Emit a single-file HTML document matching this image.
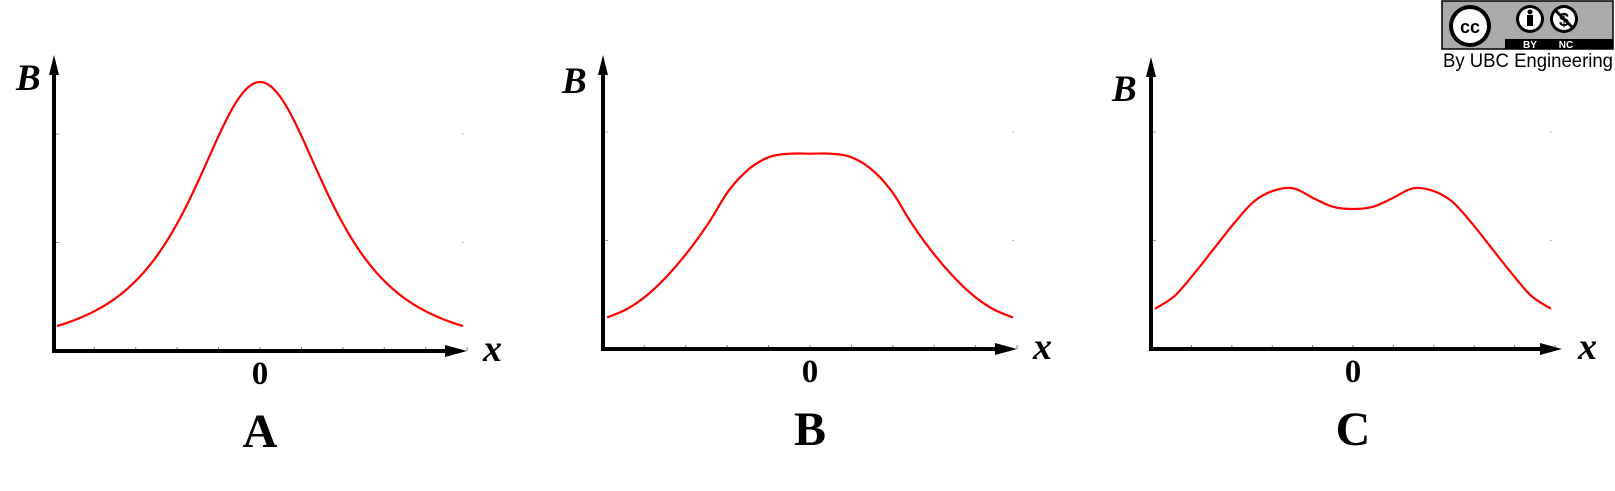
<!DOCTYPE html>
<html><head><meta charset="utf-8"><style>
html,body{margin:0;padding:0;background:#fff;}
svg{display:block;}
</style></head><body>
<svg id="chart" width="1615" height="491" viewBox="0 0 1615 491" xmlns="http://www.w3.org/2000/svg">
<g>
  <rect x="1442" y="1" width="171" height="48" fill="#a9aba9" stroke="#000" stroke-width="1.5"/>
  <rect x="1505" y="39" width="108" height="10" fill="#000"/>
  <circle cx="1470" cy="26" r="21" fill="#000"/>
  <circle cx="1470" cy="26" r="17" fill="#fff"/>
  <text x="1470" y="33" text-anchor="middle" font-family="Liberation Sans, sans-serif" font-weight="bold" font-size="18" fill="#000">cc</text>
  <circle cx="1530" cy="19" r="14" fill="#000"/>
  <circle cx="1530" cy="19" r="11" fill="#fff"/>
  <circle cx="1530" cy="12" r="2.5" fill="#000"/>
  <rect x="1527" y="15" width="6" height="11" fill="#000"/>
  <circle cx="1564" cy="19" r="14" fill="#000"/>
  <circle cx="1564" cy="19" r="11" fill="#fff"/>
  <text x="1564" y="26" text-anchor="middle" font-family="Liberation Sans, sans-serif" font-weight="bold" font-size="18" fill="#000">$</text>
  <line x1="1555" y1="10" x2="1573" y2="28" stroke="#000" stroke-width="3"/>
  <text x="1530" y="48" text-anchor="middle" font-family="Liberation Sans, sans-serif" font-weight="bold" font-size="10" fill="#fff">BY</text>
  <text x="1566" y="48" text-anchor="middle" font-family="Liberation Sans, sans-serif" font-weight="bold" font-size="10" fill="#fff">NC</text>
  <text x="1528" y="67" text-anchor="middle" font-family="Liberation Sans, sans-serif" font-size="19" textLength="170" lengthAdjust="spacingAndGlyphs" fill="#000">By UBC Engineering</text>
</g>
<g id="panels"></g>
</svg>
<script>
// normalized x positions (-1..1) and B values (in units of y-tick spacing)
const xsA = [-1,-0.95,-0.9,-0.85,-0.8,-0.75,-0.7,-0.65,-0.6,-0.55,-0.5,-0.45,-0.4,-0.35,-0.3,-0.25,-0.2,-0.15,-0.1,-0.05,0,0.05,0.1,0.15,0.2,0.25,0.3,0.35,0.4,0.45,0.5,0.55,0.6,0.65,0.7,0.75,0.8,0.85,0.9,0.95,1];
const seriesA = [0.23,0.26,0.295,0.335,0.382,0.437,0.502,0.579,0.669,0.775,0.898,1.040,1.203,1.385,1.583,1.791,1.998,2.188,2.342,2.444,2.48,2.444,2.342,2.188,1.998,1.791,1.583,1.385,1.203,1.040,0.898,0.775,0.669,0.579,0.502,0.437,0.382,0.335,0.295,0.26,0.23];
const xs = [-1,-0.9,-0.8,-0.7,-0.6,-0.5,-0.4,-0.3,-0.2,-0.1,0,0.1,0.2,0.3,0.4,0.5,0.6,0.7,0.8,0.9,1];
const seriesB = [0.29,0.37,0.50,0.68,0.90,1.16,1.46,1.66,1.77,1.80,1.80,1.80,1.77,1.66,1.46,1.16,0.90,0.68,0.50,0.37,0.29];
const seriesC = [0.37,0.49,0.70,0.93,1.16,1.36,1.46,1.48,1.39,1.31,1.29,1.31,1.39,1.48,1.46,1.36,1.16,0.93,0.70,0.49,0.37];
const panelLabels = ["A","B","C"];
const yTicks = [1,2];

const NS="http://www.w3.org/2000/svg";
const root=document.getElementById('panels');
function mk(tag,attrs,parent){const e=document.createElementNS(NS,tag);for(const k in attrs)e.setAttribute(k,attrs[k]);(parent||root).appendChild(e);return e;}

const layouts=[
 {ax:54, axY:351, top:55, tip:467, x0:57, x1:463, bx:16, by:90, xv:xsA, data:seriesA},
 {ax:603, axY:349, top:55, tip:1017, x0:607, x1:1013, bx:562, by:93, xv:xs, data:seriesB},
 {ax:1151, axY:349, top:57, tip:1562, x0:1155, x1:1551, bx:1112, by:101, xv:xs, data:seriesC}
];
const unit=108.5;

layouts.forEach((L,pi)=>{
  const g=mk('g',{});
  
  
  const xScale=v=>L.x0+(v+1)/2*(L.x1-L.x0);
  const yScale=v=>L.axY-v*unit;
  yTicks.forEach(t=>{
    const a=mk('line',{x1:L.ax+2,x2:L.ax+5,y1:yScale(t),y2:yScale(t),stroke:'#999','stroke-width':1},g);
    
    
    const b=mk('line',{x1:L.x1-1,x2:L.x1+1,y1:yScale(t),y2:yScale(t),stroke:'#bbb','stroke-width':1},g);
    
    
  });
  for(let i=-4;i<=5;i++){
    const tx=xScale(i/5*1.02);
    const t=mk('line',{x1:tx,x2:tx,y1:L.axY-4,y2:L.axY,stroke:'#777','stroke-width':1},g);
    
    
  }
  const pts=L.xv.map((x,i)=>[xScale(x),yScale(L.data[i])]);
  let d='M'+pts[0][0]+','+pts[0][1];
  for(let i=0;i<pts.length-1;i++){
    const p0=pts[Math.max(0,i-1)],p1=pts[i],p2=pts[i+1],p3=pts[Math.min(pts.length-1,i+2)];
    const c1=[p1[0]+(p2[0]-p0[0])/6,p1[1]+(p2[1]-p0[1])/6];
    const c2=[p2[0]-(p3[0]-p1[0])/6,p2[1]-(p3[1]-p1[1])/6];
    d+=' C'+c1[0]+','+c1[1]+' '+c2[0]+','+c2[1]+' '+p2[0]+','+p2[1];
  }
  const c=mk('path',{d:d,fill:'none',stroke:'#ff0000','stroke-width':2.2,'stroke-linejoin':'round'},g);
  
  
  const ya=mk('line',{x1:L.ax,x2:L.ax,y1:L.axY+2,y2:L.top+16,stroke:'#000','stroke-width':4},g);
  
  
  const yh=mk('path',{d:`M${L.ax-5},${L.top+20} L${L.ax},${L.top} L${L.ax+5},${L.top+20} Z`,fill:'#000'},g);
  
  
  const xa=mk('line',{x1:L.ax-2,x2:L.tip-16,y1:L.axY,y2:L.axY,stroke:'#000','stroke-width':4},g);
  
  
  const xh=mk('path',{d:`M${L.tip-22},${L.axY-6} L${L.tip},${L.axY} L${L.tip-22},${L.axY+6} Z`,fill:'#000'},g);
  
  
  const bl=mk('text',{x:L.bx,y:L.by,'font-family':'Liberation Serif, serif','font-style':'italic','font-weight':'bold','font-size':37},g);
  bl.textContent='B';
  
  
  const xl=mk('text',{x:L.tip+16,y:L.axY+10,'font-family':'Liberation Serif, serif','font-style':'italic','font-weight':'bold','font-size':38},g);
  xl.textContent='x';
  
  
  const zl=mk('text',{x:xScale(0),y:L.axY+33,'text-anchor':'middle','font-family':'Liberation Serif, serif','font-weight':'bold','font-size':33},g);
  zl.textContent='0';
  
  
  const pl=mk('text',{x:xScale(0),y:L.axY+96,'text-anchor':'middle','font-family':'Liberation Serif, serif','font-weight':'bold','font-size':48},g);
  pl.textContent=panelLabels[pi];
  
  
});
</script>
</body></html>
